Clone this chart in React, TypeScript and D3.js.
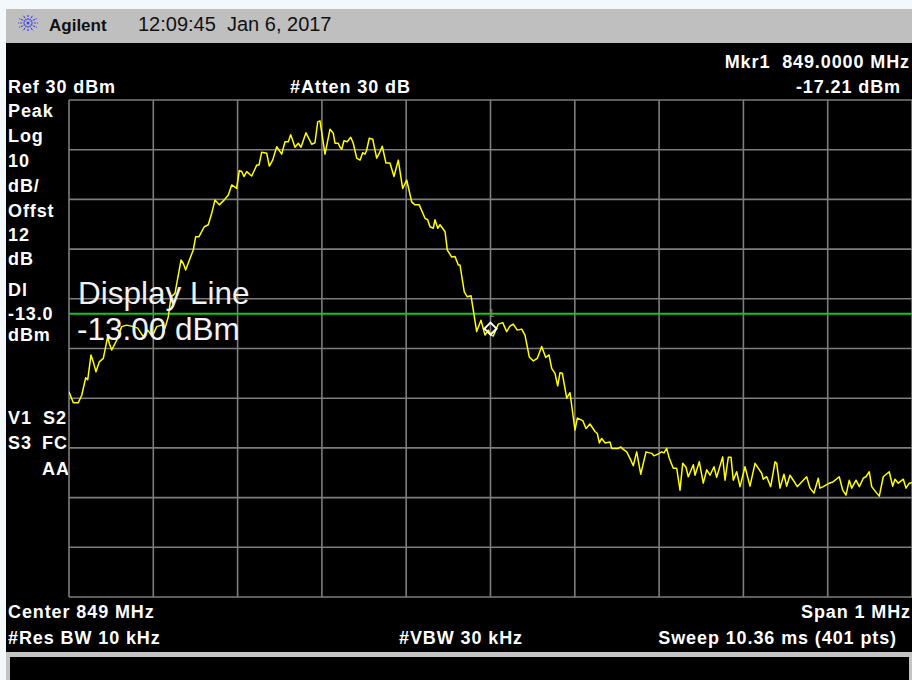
import React, { useEffect } from "react";
import * as d3 from "d3";

// Trace: frequency offset from center (kHz) and level (dBm)
const freqKHz = [
  -500, -494.9, -489.0, -484.9, -480.2, -477.8, -473.9, -471.2, -468.0, -464.1,
  -459.3, -454.1, -452.2, -449.3, -443.4, -437.5, -431.6, -423.7, -418.5, -411.9,
  -406.6, -401.2, -396.0, -390.0, -386.1, -382.2, -379.0, -374.3, -367.1, -364.4,
  -361.6, -356.5, -352.6, -349.7, -345.8, -339.5, -334.8, -330.7, -326.8, -321.7,
  -315.8, -311.0, -307.0, -301.1, -298.0, -295.1, -292.4, -289.2, -283.3, -277.3,
  -274.6, -271.4, -265.5, -262.4, -258.4, -253.6, -247.7, -243.8, -239.9, -237.0,
  -231.9, -228.0, -224.8, -218.9, -212.1, -208.2, -205.0, -202.3, -196.3, -190.4,
  -186.5, -184.5, -180.6, -178.5, -176.5, -173.8, -169.9, -165.8, -162.8, -158.7,
  -154.8, -151.6, -148.9, -146.9, -143.8, -139.7, -135.0, -131.9, -128.4, -124.0,
  -119.2, -114.5, -109.4, -104.2, -99.4, -93.5, -89.6, -84.5, -77.7, -74.5,
  -71.8, -67.9, -65.8, -62.6, -59.9, -53.9, -51.2, -46.0, -42.1, -38.2,
  -36.2, -31.1, -27.5, -23.1, -16.4, -11.3, -6.5, -2.6, 0, 3.3,
  9.2, 14.5, 19.2, 23.1, 27.0, 31.8, 37.0, 40.9, 46.0, 50.8,
  55.5, 60.7, 65.5, 69.4, 72.6, 76.5, 79.7, 82.4, 85.2, 90.4,
  94.3, 100.2, 103.0, 109.4, 113.3, 118.0, 124.0, 126.7, 129.1, 131.9,
  135.8, 141.7, 143.8, 151.6, 154.4, 157.5, 161.6, 165.5, 169.4, 173.4,
  178.2, 184.5, 191.2, 193.9, 199.1, 203.1, 205.8, 209.0, 212.1, 216.8,
  220.9, 224.8, 228.0, 231.9, 234.6, 240.6, 242.6, 247.7, 252.4, 256.5,
  260.4, 265.1, 268.3, 275.4, 278.2, 282.1, 285.3, 288.0, 292.0, 296.0,
  301.9, 307.8, 313.8, 321.7, 323.6, 327.6, 332.4, 337.5, 339.5, 343.4,
  348.1, 351.3, 355.2, 359.2, 363.9, 371.0, 375.0, 379.0, 383.7, 388.8,
  390.8, 394.8, 401.9, 406.6, 413.7, 417.8, 421.7, 425.6, 428.5, 433.6,
  437.5, 442.2, 445.4, 449.3, 452.2, 458.1, 461.2, 465.9, 473.0, 477.1,
  479.8, 483.7, 489.7, 492.9, 496.8, 500.0,
];
const levelDbm = [
  -28.7, -30.9, -30.9, -29.4, -25.9, -26.3, -21.3, -22.7, -24.7, -22.7,
  -22.0, -17.6, -19.0, -20.3, -18.3, -15.6, -15.3, -15.6, -15.9, -17.6,
  -16.3, -17.6, -15.6, -15.3, -15.9, -13.6, -9.6, -8.9, -2.2, -2.9,
  -4.2, -1.9, -0.2, 2.5, 2.5, 4.5, 4.9, 7.2, 9.9, 8.9,
  9.9, 10.9, 12.9, 12.2, 15.8, 15.6, 14.6, 15.6, 14.7, 16.9,
  16.9, 19.5, 19.3, 16.7, 17.9, 20.6, 19.1, 21.6, 21.6, 23.0,
  20.5, 21.3, 20.5, 23.4, 21.1, 21.4, 25.6, 25.8, 19.1, 24.1,
  23.3, 21.3, 21.3, 20.5, 20.1, 21.8, 21.6, 22.5, 21.3, 18.3,
  17.9, 19.4, 19.1, 19.9, 22.3, 22.1, 18.3, 19.3, 20.7, 17.3,
  17.3, 14.6, 17.9, 12.2, 13.9, 9.5, 8.9, 8.9, 6.2, 5.9,
  4.5, 4.2, 5.9, 4.2, 4.9, 3.5, -0.2, -1.6, -1.5, -3.2,
  -3.2, -8.6, -9.6, -9.4, -16.6, -14.3, -17.3, -16.3, -17.21, -17.5,
  -15.1, -14.8, -16.6, -15.5, -15.1, -16.3, -16.1, -17.3, -21.7, -22.5,
  -22.0, -19.6, -21.8, -21.3, -24.0, -25.0, -27.5, -24.9, -25.0, -30.0,
  -28.9, -36.4, -34.0, -34.5, -36.1, -35.2, -36.7, -37.1, -39.0, -38.1,
  -39.0, -38.8, -40.1, -40.1, -39.8, -40.3, -40.8, -42.1, -43.6, -40.8,
  -45.3, -40.8, -41.1, -41.6, -41.2, -40.8, -41.0, -40.1, -42.1, -44.1,
  -44.1, -48.5, -43.1, -43.9, -45.8, -43.4, -45.5, -42.8, -47.1, -44.4,
  -45.5, -43.8, -45.9, -41.8, -46.5, -41.9, -41.9, -46.5, -44.8, -47.8,
  -43.8, -47.7, -43.1, -45.1, -46.3, -45.8, -47.8, -42.8, -43.1, -48.1,
  -45.3, -47.7, -45.5, -46.5, -47.8, -46.5, -45.8, -48.1, -49.1, -46.1,
  -48.1, -47.8, -47.1, -46.8, -45.8, -48.5, -49.5, -46.5, -48.1, -46.5,
  -47.8, -46.1, -45.8, -44.8, -47.8, -49.1, -49.7, -45.8, -44.8, -47.7,
  -46.3, -47.1, -46.3, -48.1, -47.1, -47.0,
];

const xTicksKHz = [-500, -400, -300, -200, -100, 0, 100, 200, 300, 400, 500];
const yTicksDbm = [30, 20, 10, 0, -10, -20, -30, -40, -50, -60, -70];
const displayLineDbm = -13;
const markerKHz = 0;
const markerDbm = -17.21;

const leftLabels = ["Peak", "Log", "10", "dB/", "Offst", "12", "dB", "Dl", "-13.0", "dBm"];
const leftLabelY = [117, 142, 167, 192, 217, 241, 265, 296, 320, 341];
const statusLabels = [
  { t: "V1", x: 8, y: 424 },
  { t: "S2", x: 43, y: 424 },
  { t: "S3", x: 8, y: 449 },
  { t: "FC", x: 42, y: 449 },
  { t: "AA", x: 42, y: 475 },
];

const W = 912;
const H = 680;
const gx0 = 69;
const gx1 = 912;
const gy0 = 100;
const gy1 = 597;

export default function App() {
  useEffect(() => {
    document.body.style.margin = "0";
  }, []);

  const x = d3.scaleLinear().domain([-500, 500]).range([gx0, gx1]);
  const y = d3.scaleLinear().domain([30, -70]).range([gy0, gy1]);

  const pts = freqKHz.map((f, i) => [f, levelDbm[i]] as [number, number]);
  const line = d3
    .line<[number, number]>()
    .x((d) => x(d[0]))
    .y((d) => y(d[1]));

  const bold = {
    fontFamily: "'Liberation Sans', Arial, sans-serif",
    fontWeight: 700,
    fontSize: 18,
    letterSpacing: 0.9,
    fill: "#ffffff",
    whiteSpace: "pre" as const,
  };

  const mx = x(markerKHz);
  const my = y(markerDbm);

  // Agilent logo sparkle
  const rays = d3.range(0, 360, 30).map((a) => {
    const r = (a * Math.PI) / 180;
    return { x1: 28 + Math.cos(r) * 3, y1: 23 + Math.sin(r) * 3, x2: 28 + Math.cos(r) * 10, y2: 23 + Math.sin(r) * 9 };
  });

  return (
    <svg
      width={W}
      height={H}
      viewBox={`0 0 ${W} ${H}`}
      style={{ position: "fixed", left: 0, top: 0, display: "block" }}
    >
      <defs>
        <clipPath id="plotClip">
          <rect x={gx0} y={gy0 - 2} width={gx1 - gx0} height={gy1 - gy0 + 4} />
        </clipPath>
      </defs>
      <rect x={0} y={0} width={W} height={H} fill="#f3f8fc" />
      {/* title bar */}
      <rect x={6} y={9} width={W - 6} height={34} fill="#bfbfbf" />
      {rays.map((r, i) => (
        <line key={i} x1={r.x1} y1={r.y1} x2={r.x2} y2={r.y2} stroke="#3f3fe8" strokeWidth={1.2} strokeDasharray="2 1" />
      ))}
      <circle cx={28} cy={23} r={1.5} fill="#3f3fe8" />
      <text x={49} y={31} style={{ ...bold, fill: "#111", fontSize: 17, letterSpacing: 0 }}>
        Agilent
      </text>
      <text
        x={138}
        y={31}
        style={{ fontFamily: "'Liberation Sans', Arial, sans-serif", fontSize: 20, fill: "#111", whiteSpace: "pre" }}
      >
        {"12:09:45  Jan 6, 2017"}
      </text>

      {/* main black screen */}
      <rect x={6} y={43} width={W - 6} height={610} fill="#000" />

      {/* header texts */}
      <text x={910} y={68} textAnchor="end" style={bold}>
        {"Mkr1  849.0000 MHz"}
      </text>
      <text x={901} y={93} textAnchor="end" style={bold}>
        {"-17.21 dBm"}
      </text>
      <text x={8} y={93} style={bold}>
        Ref 30 dBm
      </text>
      <text x={290} y={93} style={bold}>
        #Atten 30 dB
      </text>

      {/* left labels */}
      {leftLabels.map((t, i) => (
        <text key={t + i} x={8} y={leftLabelY[i]} style={bold}>
          {t}
        </text>
      ))}
      {statusLabels.map((s) => (
        <text key={s.t} x={s.x} y={s.y} style={bold}>
          {s.t}
        </text>
      ))}

      {/* grid */}
      <g stroke="#7d7d7d" strokeWidth={1.6}>
        {xTicksKHz.map((f) => (
          <line key={"v" + f} x1={x(f)} x2={x(f)} y1={gy0} y2={gy1} />
        ))}
        {yTicksDbm.map((v) => (
          <line key={"h" + v} x1={gx0} x2={gx1} y1={y(v)} y2={y(v)} />
        ))}
      </g>

      {/* display line */}
      <line
        x1={gx0}
        x2={gx1}
        y1={y(displayLineDbm)}
        y2={y(displayLineDbm)}
        stroke="#19c419"
        strokeWidth={2}
      />

      {/* trace */}
      <g clipPath="url(#plotClip)">
        <path d={line(pts) || ""} fill="none" stroke="#ffff00" strokeWidth={1.5} strokeLinejoin="round" />
      </g>

      {/* marker */}
      <path
        d={`M${mx},${my} L${mx + 6},${my - 6} L${mx},${my - 12} L${mx - 6},${my - 6} Z`}
        fill="none"
        stroke="#ffffff"
        strokeWidth={2}
      />
      <text
        x={mx + 1}
        y={my - 18}
        textAnchor="middle"
        style={{ fontFamily: "'Liberation Sans', Arial, sans-serif", fontSize: 10, fill: "#8a8a8a" }}
      >
        1
      </text>

      {/* display line annotation */}
      <text
        x={78}
        y={304}
        style={{ fontFamily: "'Liberation Sans', Arial, sans-serif", fontSize: 31.5, fill: "#f2f2f2" }}
      >
        Display Line
      </text>
      <text
        x={77}
        y={340}
        style={{ fontFamily: "'Liberation Sans', Arial, sans-serif", fontSize: 31.5, fill: "#f2f2f2" }}
      >
        -13.00 dBm
      </text>

      {/* footer texts */}
      <text x={8} y={618} style={bold}>
        Center 849 MHz
      </text>
      <text x={911} y={618} textAnchor="end" style={bold}>
        Span 1 MHz
      </text>
      <text x={8} y={644} style={bold}>
        #Res BW 10 kHz
      </text>
      <text x={399} y={644} style={bold}>
        #VBW 30 kHz
      </text>
      <text x={897} y={644} textAnchor="end" style={bold}>
        Sweep 10.36 ms (401 pts)
      </text>

      {/* bottom message box */}
      <rect x={6} y={652} width={W - 6} height={H - 652} fill="#c4c4c4" />
      <rect x={10} y={657} width={W - 13} height={H - 657} fill="#000" />
    </svg>
  );
}
